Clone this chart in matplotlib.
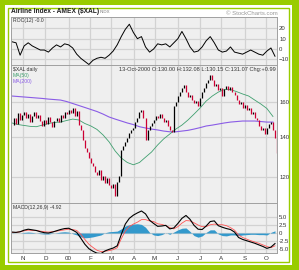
import numpy as np
import pandas as pd
import matplotlib
matplotlib.use('Agg')
import matplotlib.pyplot as plt
from matplotlib.patches import Rectangle
from matplotlib.ticker import NullLocator

####################################
# Data
####################################

START = '1999-10-15'
N_DAYS = 262

# closes, one every 2 trading days
close = [146.5, 150.5, 147.1, 153.4, 149.4, 152.3, 154.0, 150.5, 152.8, 148.2,
         151.7, 154.0, 150.5, 152.3, 148.8, 146.0, 149.4, 147.1, 151.1, 148.2,
         145.4, 148.8, 150.5, 148.2, 152.3, 150.5, 154.0, 152.8, 155.2, 153.4,
         156.4, 151.7, 154.6, 146.5, 143.8, 138.4, 134.2, 132.2, 129.2, 126.8,
         125.3, 122.5, 121.1, 123.4, 118.8, 120.6, 117.4, 119.7, 116.6, 115.2,
         117.0, 111.8, 117.9, 120.6, 133.2, 135.3, 137.4, 139.5, 142.2, 143.8,
         144.9, 148.2, 150.5, 154.0, 155.2, 150.5, 138.4, 143.8, 146.0, 147.7,
         149.4, 151.7, 150.5, 152.8, 150.5, 148.2, 149.4, 146.0, 143.8, 142.7,
         157.6, 160.0, 163.7, 166.2, 168.8, 170.7, 166.2, 163.1, 164.3, 161.2,
         159.4, 160.6, 157.6, 162.5, 166.2, 168.8, 172.0, 174.0, 177.4, 174.0,
         170.1, 171.4, 167.5, 168.8, 163.7, 168.1, 170.1, 167.5, 169.4, 166.2,
         164.3, 161.2, 158.8, 160.0, 156.4, 158.2, 155.2, 156.4, 152.8, 154.0,
         150.5, 149.4, 146.0, 143.8, 144.9, 141.6, 144.9, 147.1, 148.2, 143.8,
         139.5, 131.5]

# moving averages, one every 6 trading days
ma50 = [147.7, 146.8, 146.3, 145.8, 145.6, 146.5, 147.4, 148.0, 148.2, 149.1,
        149.9, 149.4, 147.4, 146.0, 144.1, 141.1, 137.4, 132.7, 129.2, 127.0,
        125.9, 127.0, 129.6, 132.2, 135.8, 139.0, 141.6, 144.3, 146.5, 149.4,
        152.8, 156.4, 160.6, 163.7, 166.2, 167.8, 167.8, 166.5, 165.0, 163.7,
        161.2, 158.8, 156.1, 151.4]
ma200 = [163.7, 163.4, 163.1, 162.8, 162.5, 162.2, 161.8, 161.5, 161.2, 160.3,
         159.1, 157.9, 156.7, 155.5, 154.3, 152.8, 151.1, 149.9, 148.8, 147.7,
         146.8, 145.6, 144.9, 144.3, 143.8, 143.2, 142.8, 142.8, 143.2, 143.6,
         144.3, 145.1, 146.0, 146.5, 147.1, 147.7, 148.2, 148.5, 148.8, 148.8,
         148.8, 148.5, 148.2, 148.2]

# indicators, one every 4 trading days
roc = [7, 6, -6, 3, 6, 3, 1, -1, -1, -3,
       1, 4, 2, 5, 4, 1, -5, -9, -12, -15,
       -11, -9, -8, -9, -6, -2, 4, 12, 19, 24,
       16, 10, 12, 2, -3, 0, 5, 4, 5, 2,
       6, 10, 17, 10, 2, -3, -2, 2, 8, 12,
       6, -1, -3, -2, 2, -3, -4, -5, -3, -1,
       -3, -5, -6, -2, 1, -7]
macd = [0.3, 0.2, 0.4, 0.9, 1.2, 1.0, 0.8, 0.4, 0.1, 0.0,
        0.3, 0.7, 1.1, 1.4, 1.5, 0.9, 0.2, -1.6, -3.5, -4.9,
        -5.7, -6.3, -6.4, -5.6, -5.1, -4.7, -4.0, -0.5, 2.8, 4.6,
        5.6, 6.3, 6.9, 6.0, 4.0, 3.0, 2.1, 2.2, 2.4, 1.3,
        1.6, 3.0, 4.6, 5.5, 4.3, 2.4, 1.2, 1.1, 2.2, 3.6,
        3.8, 2.3, 1.8, 1.4, 1.1, 0.3, -1.4, -2.0, -2.4, -2.8,
        -3.2, -3.7, -4.2, -4.8, -4.4, -3.3]
signal = [0.2, 0.2, 0.4, 0.7, 0.9, 0.8, 0.8, 0.6, 0.4, 0.3,
          0.4, 0.6, 0.8, 1.0, 1.2, 1.1, 0.8, -0.4, -2.0, -3.5,
          -4.5, -5.4, -5.8, -5.7, -5.5, -5.2, -4.6, -1.8, 0.6, 2.0,
          2.8, 3.4, 4.2, 4.2, 3.8, 3.6, 2.9, 2.7, 2.3, 1.7,
          1.3, 2.0, 3.1, 3.9, 3.8, 3.2, 2.5, 2.0, 2.0, 2.6,
          2.8, 2.6, 2.6, 2.3, 1.7, 0.9, -0.6, -1.4, -1.9, -2.4,
          -2.8, -3.2, -3.7, -4.2, -4.6, -4.0]

month_labels = ['N', 'D', '00', 'F', 'M', 'A', 'M', 'J', 'J', 'A', 'S', 'O']

####################################
# Style
####################################

W, H = 299, 270
GREEN = '#99cc00'
PANEL_BG = '#efefef'
GRID = '#d2d2d2'
EDGE = '#a0a0a0'
LEFT, RIGHT = 11, 277
plt.rcParams['font.family'] = ['Liberation Sans', 'DejaVu Sans']

days = pd.bdate_range(START, periods=N_DAYS)
month_idx = [i for i in range(1, len(days)) if days[i].month != days[i - 1].month]

x_close = np.arange(len(close)) * 2
x_ma = np.arange(len(ma50)) * 6
x_ind = np.arange(len(roc)) * 4


def px_axes(fig, top, bottom):
    ax = fig.add_axes([LEFT / W, 1 - bottom / H, (RIGHT - LEFT) / W, (bottom - top) / H])
    ax.set_facecolor(PANEL_BG)
    ax.set_xlim(-1, N_DAYS)
    ax.set_xticks(month_idx)
    ax.set_xticklabels([])
    ax.yaxis.tick_right()
    ax.tick_params(length=0, labelsize=4.3, colors='#333333', pad=1.5)
    ax.grid(True, color=GRID, lw=0.9)
    ax.set_axisbelow(True)
    for s in ax.spines.values():
        s.set_color(EDGE)
        s.set_linewidth(0.7)
    return ax


def label(ax, text, top_px, color='#333333', right=False, size=3.7):
    # top_px: distance from the panel top, in pixels
    h = ax.get_position().height * H
    if right:
        ax.text(1 - 1 / (RIGHT - LEFT), 1 - top_px / h, text, transform=ax.transAxes,
                fontsize=size, color=color, va='top', ha='right')
    else:
        ax.text(2 / (RIGHT - LEFT), 1 - top_px / h, text, transform=ax.transAxes,
                fontsize=size, color=color, va='top')


fig = plt.figure(figsize=(W / 100, H / 100), dpi=100, facecolor=GREEN)
fig.patches.append(Rectangle((5 / W, 5 / H), 287 / W, 260 / H, transform=fig.transFigure,
                             facecolor='white', edgecolor='none', zorder=-10))
fig.patches.append(Rectangle((7.5 / W, 8.5 / H), 281 / W, 254 / H, transform=fig.transFigure,
                             fill=False, edgecolor=GREEN, lw=1.0, zorder=-9))

# Title
fig.text(11 / W, 1 - 13 / H, 'Airline Index - AMEX ($XAL)', fontsize=4.8, weight='bold',
         color='#222222', va='baseline')
fig.text(100 / W, 1 - 13 / H, 'INDX', fontsize=3.2, color='#777777', va='baseline')
fig.text(278 / W, 1 - 15 / H, '\u00a9 StockCharts.com', fontsize=4.3, color='#9a9a9a',
         ha='right', va='baseline')

# ROC panel
ax1 = px_axes(fig, 17, 65)
ax1.plot(x_ind, roc, color='black', lw=0.7)
ax1.set_ylim(-15.5, 31)
ax1.set_yticks([-10, 0, 10, 20])
label(ax1, 'ROC(12) -0.0', 1)

# Price panel
ax2 = px_axes(fig, 65, 203)
ax2.set_yscale('log')
ax2.set_ylim(108.8, 184.3)
ax2.yaxis.set_minor_locator(NullLocator())
ax2.set_yticks([120, 140, 160])
ax2.set_yticklabels(['120', '140', '160'])
ax2.plot(x_ma, ma200, color='#8a5ce6', lw=0.8)
ax2.plot(x_ma, ma50, color='#3f9f6f', lw=0.6)
prev = np.r_[close[0], close[:-1]]
cols = ['black' if c >= p else '#cc0033' for c, p in zip(close, prev)]
ax2.vlines(x_close, prev, close, colors=cols, lw=0.9)
label(ax2, '$XAL daily', 2)
label(ax2, 'MA(50)', 8, color='#3f9f6f')
label(ax2, 'MA(200)', 14, color='#8a5ce6')
label(ax2, '13-Oct-2000 O:130.00 H:132.08 L:130.15 C:131.07 Chg:+0.99', 2, right=True,
      size=4.1)

# MACD panel
ax3 = px_axes(fig, 203, 253)
hist = np.array(macd) - np.array(signal)
ax3.fill_between(x_ind, 0, hist, color='#3399cc', lw=0)
ax3.plot(x_ind, signal, color='#ff5555', lw=0.6)
ax3.plot(x_ind, macd, color='black', lw=0.8)
ax3.set_ylim(-6.25, 9.4)
ax3.set_yticks([-5, -2.5, 0, 2.5, 5])
ax3.set_yticklabels(['-5.0', '-2.5', '0', '2.5', '5.0'])
ax3.set_xticklabels(month_labels)
ax3.tick_params(axis='x', pad=2, labelsize=4.5)
label(ax3, 'MACD(12,26,9) -4.92', 2)

fig.savefig('out.png', dpi=100, facecolor=fig.get_facecolor())
